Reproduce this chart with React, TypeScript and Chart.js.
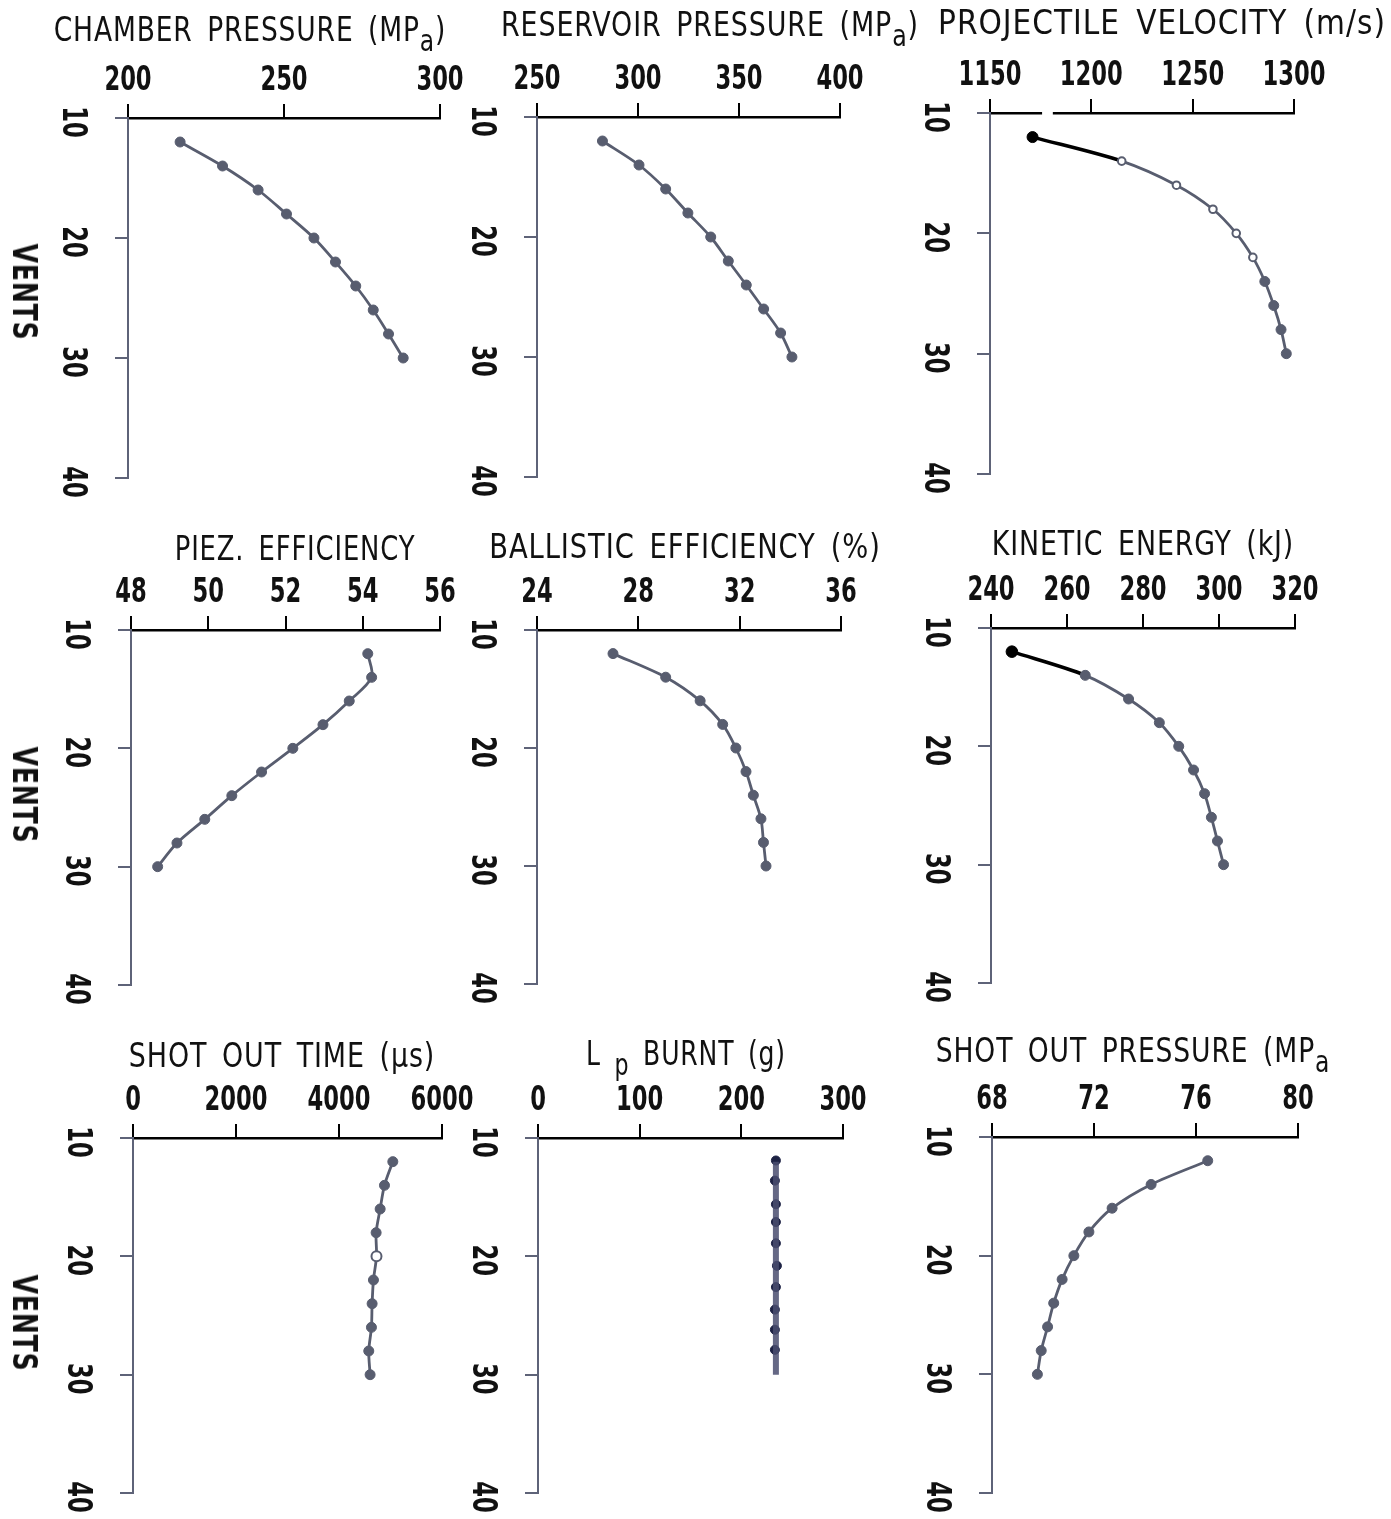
import React, { useEffect, useRef } from 'react';
import { Chart, registerables } from 'chart.js';

Chart.register(...registerables);

const FONT = '"Liberation Sans Narrow", "DejaVu Sans Condensed", "DejaVu Sans", sans-serif';
const LINE = '#585d6f';
const AXIS_Y = '#5e6378';
const INK = '#111111';

// ---- data ----
const vents = [12, 14, 16, 18, 20, 22, 24, 26, 28, 30];
const chamberPressure = [216.7, 230.3, 241.7, 250.8, 259.6, 266.5, 273.0, 278.6, 283.5, 288.2];
const reservoirPressure = [282.4, 300.5, 313.7, 324.7, 336.0, 344.7, 353.6, 362.2, 370.6, 376.2];
const projectileVelocity = [1171, 1215, 1242, 1260, 1271.5, 1279.7, 1285.6, 1290, 1293.6, 1296.2];
const piezEfficiency = [54.13, 54.23, 53.65, 52.97, 52.19, 51.38, 50.61, 49.91, 49.19, 48.69];
const ballisticEfficiency = [27.0, 29.08, 30.44, 31.33, 31.85, 32.25, 32.54, 32.84, 32.94, 33.04];
const kineticEnergy = [245.5, 264.8, 276.2, 284.3, 289.4, 293.3, 296.2, 298.0, 299.6, 301.2];
const shotOutTime = [5045, 4883, 4799, 4721, 4728, 4669, 4643, 4630, 4578, 4604];
const lpBurntVents = [11.9, 13.6, 15.6, 17.1, 18.9, 20.8, 22.6, 24.5, 26.2, 27.9];
const lpBurnt = [234, 233, 234, 234, 234, 235, 234, 233, 233, 233];
const lpBurntLineVents = [12, 30];
const lpBurntLineValues = [234, 234];
const shotOutPressure = [76.46, 74.24, 72.71, 71.8, 71.21, 70.75, 70.42, 70.18, 69.93, 69.78];

const ventTicks = [10, 20, 30, 40];

const chamberTicks = [200, 300, 50];
const reservoirTicks = [250, 400, 50];
const velocityTicks = [1150, 1300, 50];
const velocityAxisGap = [1175.7, 1181];
const piezTicks = [48, 56, 2];
const ballisticTicks = [24, 36, 4];
const kineticTicks = [240, 320, 20];
const shotTimeTicks = [0, 6000, 2000];
const lpTicks = [0, 300, 100];
const shotPressureTicks = [68, 80, 4];

const ML = 100; // y-axis area
const MT = 70; // x-axis area
const MR = 45;
const MB = 40;
const TICK_SQUEEZE = 0.74;

type PanelCfg = {
  id: string;
  left: number; top: number; right: number; bottom: number;
  ticks: number[];
  title: React.ReactNode;
  tx: number; ty: number; tscale: number;
  gap?: number[];
};

const sub = (t: string) => (
  <span style={{ fontSize: 30, position: 'relative', top: 10 }}>{t}</span>
);

const panels: PanelCfg[] = [
  { id: 'chamber', left: 128, top: 118, right: 440, bottom: 478, ticks: chamberTicks, tx: 250, ty: 29, tscale: 0.867,
    title: <>CHAMBER PRESSURE (MP{sub('a')})</> },
  { id: 'reservoir', left: 537, top: 117, right: 840, bottom: 477, ticks: reservoirTicks, tx: 710, ty: 24, tscale: 0.88,
    title: <>RESERVOIR PRESSURE (MP{sub('a')})</> },
  { id: 'velocity', left: 990, top: 113, right: 1294, bottom: 474, ticks: velocityTicks, tx: 1162, ty: 22, tscale: 0.97,
    title: <>PROJECTILE VELOCITY (m/s)</>, gap: velocityAxisGap },
  { id: 'piez', left: 131, top: 630, right: 440, bottom: 985, ticks: piezTicks, tx: 295, ty: 548, tscale: 0.845,
    title: <>PIEZ. EFFICIENCY</> },
  { id: 'ballistic', left: 537, top: 630, right: 841, bottom: 984, ticks: ballisticTicks, tx: 685, ty: 546, tscale: 0.895,
    title: <>BALLISTIC EFFICIENCY (%)</> },
  { id: 'kinetic', left: 991, top: 628, right: 1295, bottom: 983, ticks: kineticTicks, tx: 1143, ty: 543, tscale: 0.877,
    title: <>KINETIC ENERGY (kJ)</> },
  { id: 'shotTime', left: 133, top: 1138, right: 442, bottom: 1493, ticks: shotTimeTicks, tx: 282, ty: 1055, tscale: 0.88,
    title: <>SHOT OUT TIME (µs)</> },
  { id: 'lp', left: 538, top: 1138, right: 843, bottom: 1493, ticks: lpTicks, tx: 686, ty: 1053, tscale: 0.82,
    title: <>L {sub('p')} BURNT (g)</> },
  { id: 'shotPressure', left: 992, top: 1137, right: 1298, bottom: 1493, ticks: shotPressureTicks, tx: 1133, ty: 1050, tscale: 0.87,
    title: <>SHOT OUT PRESSURE (MP{sub('a')}</> },
];

const ventsLabels = [292, 795, 1323];

const pts = (xs: number[], ys: number[]) => xs.map((v, i) => ({ x: v, y: ys[i] }));

function baseLine(values: number[]) {
  return {
    data: pts(values, vents),
    showLine: true,
    borderColor: LINE,
    backgroundColor: LINE,
    pointBackgroundColor: LINE,
    pointBorderColor: LINE,
    pointRadius: 5,
    pointBorderWidth: 1,
    borderWidth: 2.8,
    tension: 0.3,
  } as any;
}

function makeDatasets(id: string): any[] {
  switch (id) {
    case 'chamber': return [baseLine(chamberPressure)];
    case 'reservoir': return [baseLine(reservoirPressure)];
    case 'velocity': {
      const d = baseLine(projectileVelocity);
      d.pointBackgroundColor = projectileVelocity.map((_, i) => (i === 0 ? '#000' : i <= 5 ? '#fff' : LINE));
      d.pointBorderColor = projectileVelocity.map((_, i) => (i === 0 ? '#000' : LINE));
      d.pointRadius = projectileVelocity.map((_, i) => (i === 0 ? 5.5 : i <= 5 ? 3.8 : 5));
      d.pointBorderWidth = projectileVelocity.map((_, i) => (i >= 1 && i <= 5 ? 2 : 1));
      d.segment = {
        borderColor: (c: any) => (c.p0DataIndex === 0 ? '#000' : undefined),
        borderWidth: (c: any) => (c.p0DataIndex === 0 ? 3.5 : undefined),
      };
      return [d];
    }
    case 'piez': return [baseLine(piezEfficiency)];
    case 'ballistic': return [baseLine(ballisticEfficiency)];
    case 'kinetic': {
      const d = baseLine(kineticEnergy);
      d.pointBackgroundColor = kineticEnergy.map((_, i) => (i === 0 ? '#000' : LINE));
      d.pointBorderColor = kineticEnergy.map((_, i) => (i === 0 ? '#000' : LINE));
      d.pointRadius = kineticEnergy.map((_, i) => (i === 0 ? 5.8 : 5));
      d.segment = {
        borderColor: (c: any) => (c.p0DataIndex === 0 ? '#000' : undefined),
        borderWidth: (c: any) => (c.p0DataIndex === 0 ? 3.5 : undefined),
      };
      return [d];
    }
    case 'shotTime': {
      const d = baseLine(shotOutTime);
      d.pointBackgroundColor = shotOutTime.map((_, i) => (i === 4 ? '#fff' : LINE));
      d.pointBorderWidth = shotOutTime.map((_, i) => (i === 4 ? 2 : 1));
      return [d];
    }
    case 'lp':
      return [
        {
          data: pts(lpBurntLineValues, lpBurntLineVents),
          showLine: true,
          borderColor: 'rgba(74,78,112,0.85)',
          borderWidth: 6,
          pointRadius: 0,
        },
        {
          data: pts(lpBurnt, lpBurntVents),
          showLine: false,
          pointRadius: 4.5,
          pointBackgroundColor: '#1d2244',
          pointBorderColor: '#1d2244',
        },
      ];
    case 'shotPressure': return [baseLine(shotOutPressure)];
  }
  return [];
}

const axisLabels = {
  id: 'axisLabels',
  beforeDatasetsDraw(chart: any, _args: any, opts: any) {
    const gap = opts && opts.gap;
    if (gap) {
      const x = chart.scales.x;
      const ctx = chart.ctx;
      const a = x.getPixelForValue(gap[0]);
      const b = x.getPixelForValue(gap[1]);
      ctx.save();
      ctx.fillStyle = '#ffffff';
      ctx.fillRect(a, x.bottom - 3, b - a, 6);
      ctx.restore();
    }
  },
  afterDraw(chart: any) {
    const y = chart.scales.y;
    const x = chart.scales.x;
    const ctx = chart.ctx;
    ctx.save();
    ctx.font = `bold 34px ${FONT}`;
    ctx.fillStyle = INK;
    ctx.textAlign = 'center';
    ctx.textBaseline = 'middle';
    ventTicks.forEach((v) => {
      const py = y.getPixelForValue(v);
      ctx.save();
      ctx.translate(y.right - 56, py + 4);
      ctx.rotate(Math.PI / 2);
      ctx.scale(TICK_SQUEEZE, 1);
      ctx.fillText(String(v), 0, 0);
      ctx.restore();
    });
    x.ticks.forEach((t: any) => {
      const px = x.getPixelForValue(t.value);
      ctx.save();
      ctx.translate(px, x.bottom - 37);
      ctx.scale(TICK_SQUEEZE, 1);
      ctx.fillText(String(t.value), 0, 0);
      ctx.restore();
    });
    ctx.restore();
  },
};

function Panel({ cfg }: { cfg: PanelCfg }) {
  const ref = useRef<HTMLCanvasElement | null>(null);
  const width = ML + (cfg.right - cfg.left) + MR;
  const height = MT + (cfg.bottom - cfg.top) + MB;
  useEffect(() => {
    if (!ref.current) return;
    const [xmin, xmax, xstep] = cfg.ticks;
    const chart = new Chart(ref.current, {
      type: 'scatter',
      data: { datasets: makeDatasets(cfg.id) },
      options: {
        animation: false,
        responsive: false,
        devicePixelRatio: 1,
        layout: { padding: { left: 0, top: 0, right: MR, bottom: MB } },
        plugins: {
          legend: { display: false },
          tooltip: { enabled: false },
          axisLabels: { gap: cfg.gap || null },
        },
        scales: {
          x: {
            type: 'linear',
            position: 'top',
            min: xmin,
            max: xmax,
            afterFit: (s: any) => { s.height = MT; },
            ticks: { stepSize: xstep, display: false },
            grid: { drawOnChartArea: false, drawTicks: true, tickLength: 14, color: '#000', lineWidth: 2 },
            border: { display: true, color: '#000', width: 2.5 },
          },
          y: {
            type: 'linear',
            position: 'left',
            reverse: true,
            min: 10,
            max: 40,
            afterFit: (s: any) => { s.width = ML; },
            ticks: { stepSize: 10, display: false },
            grid: { drawOnChartArea: false, drawTicks: true, tickLength: 13, color: AXIS_Y, lineWidth: 2 },
            border: { display: true, color: AXIS_Y, width: 2 },
          },
        },
      } as any,
      plugins: [axisLabels],
    });
    return () => chart.destroy();
  }, []);
  return (
    <canvas
      ref={ref}
      width={width}
      height={height}
      style={{ position: 'absolute', left: cfg.left - ML, top: cfg.top - MT, width, height }}
    />
  );
}

export default function App() {
  return (
    <div style={{ position: 'absolute', left: 0, top: 0, width: 1391, height: 1519, background: '#fff', overflow: 'hidden' }}>
      {panels.map((p) => (
        <Panel key={p.id} cfg={p} />
      ))}
      {panels.map((p) => (
        <div
          key={p.id + '-t'}
          style={{
            position: 'absolute',
            left: p.tx,
            top: p.ty - 17,
            transform: `translateX(-50%) scaleX(${p.tscale})`,
            fontFamily: FONT,
            fontSize: 34,
            lineHeight: '34px',
            whiteSpace: 'pre',
            color: INK,
            letterSpacing: 1,
            wordSpacing: 6,
          }}
        >
          {p.title}
        </div>
      ))}
      {ventsLabels.map((y, i) => (
        <div
          key={'v' + i}
          style={{
            position: 'absolute',
            left: 25,
            top: y,
            transform: 'translate(-50%, -50%) rotate(90deg) scaleX(0.82)',
            fontFamily: FONT,
            fontSize: 34,
            fontWeight: 'bold',
            lineHeight: '34px',
            whiteSpace: 'pre',
            color: INK,
            letterSpacing: 1,
          }}
        >
          VENTS
        </div>
      ))}
    </div>
  );
}
